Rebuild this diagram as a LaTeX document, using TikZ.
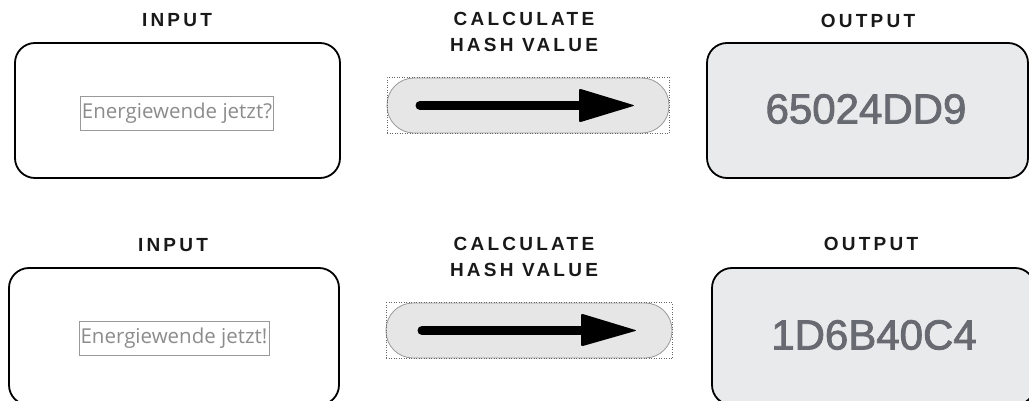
\documentclass[tikz,border=0pt]{standalone}
\usepackage{fontspec}
\setmainfont{Liberation Sans}
\newfontfamily\titlefont[LetterSpace=17]{Liberation Sans}
\newfontfamily\inputfont{Open Sans}
\newfontfamily\hashfont[FakeBold=2]{Liberation Sans}
\definecolor{outgray}{HTML}{E9EAEC}
\definecolor{pillgray}{HTML}{E6E6E6}
\definecolor{hashgray}{HTML}{676A70}
\definecolor{textgray}{HTML}{8C8C8C}
\tikzset{
  title/.style={font=\titlefont\bfseries\fontsize{19}{26}\selectfont, align=center, text=black!90, inner sep=0pt},
  inbox/.style={draw=black, line width=1.8pt, rounded corners=20pt, inner sep=0pt},
  outbox/.style={inbox, fill=outgray},
  intext/.style={draw=black!40, line width=0.8pt, font=\inputfont\fontsize{20.5}{22}\selectfont, text=textgray, inner sep=1.5pt, minimum height=34pt},
  pill/.style={draw=black!40, fill=pillgray, rounded corners=27pt, line width=0.8pt, inner sep=0pt},
  dotbox/.style={draw=black!60, dotted, line width=0.5pt, inner sep=0pt},
  hash/.style={font=\hashfont\fontsize{42}{48}\selectfont, text=hashgray, inner sep=0pt},
  shaft/.style={line width=9pt, line cap=round, black},
  head/.style={fill=black, rounded corners=2pt}
}
\begin{document}
\begin{tikzpicture}[x=1pt,y=-1pt]
\useasboundingbox (0,0) rectangle (1029,401);
\clip (0,0) rectangle (1029,401);
% ---------- row 1 ----------
\node[title] (t1in) at (177,20) {INPUT};
\node[title] (t1calc) at (524,32) {CALCULATE\\HASH VALUE};
\node[title] (t1out) at (868,21) {OUTPUT};
\node[inbox, minimum width=325pt, minimum height=135pt] (in1) at (177.5,110.5) {};
\node[intext] (txt1) at (177,113) {Energiewende jetzt?};
\node[pill, minimum width=282pt, minimum height=55pt] (p1) at (528,105.5) {};
\node[dotbox, minimum width=282pt, minimum height=56pt] (d1) at (528,105.5) {};
\draw[shaft] ([xshift=-108pt]p1.center) -- ([xshift=53pt]p1.center);
\fill[head] ([xshift=51pt,yshift=-17pt]p1.center) -- ([xshift=107pt]p1.center) -- ([xshift=51pt,yshift=17pt]p1.center) -- cycle;
\node[outbox, minimum width=321pt, minimum height=135pt] (out1) at (867.5,110.5) {};
\node[hash] (h1) at (866,109) {65024DD9};
% ---------- row 2 ----------
\node[title] (t2in) at (173,245) {INPUT};
\node[title] (t2calc) at (524,256.5) {CALCULATE\\HASH VALUE};
\node[title] (t2out) at (871,244) {OUTPUT};
\node[inbox, minimum width=330pt, minimum height=137pt] (in2) at (174,336.5) {};
\node[intext] (txt2) at (174,338.5) {Energiewende jetzt!};
\node[pill, minimum width=286pt, minimum height=55pt] (p2) at (529,330.5) {};
\node[dotbox, minimum width=286pt, minimum height=56pt] (d2) at (529,330.5) {};
\draw[shaft] ([xshift=-107pt]p2.center) -- ([xshift=54pt]p2.center);
\fill[head] ([xshift=52pt,yshift=-16pt]p2.center) -- ([xshift=108pt]p2.center) -- ([xshift=52pt,yshift=17pt]p2.center) -- cycle;
\node[outbox, minimum width=323pt, minimum height=137pt] (out2) at (873.5,336.5) {};
\node[hash] (h2) at (874,335) {1D6B40C4};
\end{tikzpicture}
\end{document}
